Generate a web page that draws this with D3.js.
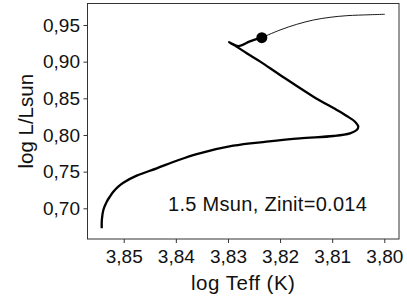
<!DOCTYPE html>
<html>
<head>
<meta charset="utf-8">
<script src="https://cdn.jsdelivr.net/npm/d3@7"></script>
<style>
html,body{margin:0;padding:0;background:#fff;}
svg{display:block;font-family:"Liberation Sans",Arial,Helvetica,sans-serif;}
</style>
</head>
<body>
<svg id="chart" width="407" height="305"></svg>
<script>
// Data: evolutionary track (thick part, up to marker)
const trackTeff = [3.85422,3.85420,3.85391,3.85326,3.85260,3.85200,3.85110,3.85008,3.84751,3.84367,3.83983,3.83599,3.8290,3.8226,3.8162,3.80978,3.80658,3.80530,3.80499,3.80562,3.80721,3.80913,3.8136,3.8200,3.8238,3.8264,3.8283,3.8298,3.8280,3.8258,3.8235];
const trackLogL = [0.6727,0.6840,0.6977,0.7090,0.7165,0.7226,0.7293,0.7349,0.7445,0.7545,0.7649,0.7740,0.7854,0.7909,0.7955,0.7986,0.8023,0.8068,0.8113,0.8181,0.8259,0.8341,0.8522,0.8818,0.9000,0.9114,0.9204,0.9265,0.9212,0.9276,0.9327];
// Continuation (thin part)
const thinTeff = [3.8235,3.8200,3.8168,3.8136,3.8104,3.8072,3.8027,3.7999];
const thinLogL = [0.9327,0.9432,0.9509,0.9568,0.9605,0.9627,0.9640,0.9646];
// Marker
const markTeff = [3.8235];
const markLogL = [0.9327];
// Ticks
const xTicks = [3.85,3.84,3.83,3.82,3.81,3.80];
const yTicks = [0.70,0.75,0.80,0.85,0.90,0.95];
const xTitle = "log Teff (K)";
const yTitle = "log L/Lsun";
const annotation = "1.5 Msun, Zinit=0.014";

const svg = d3.select("#chart");
const L = 87.5, R = 399, T = 3.5, B = 239;
const x = d3.scaleLinear().domain([3.85695, 3.79718]).range([L, R]);
const y = d3.scaleLinear().domain([0.65813, 0.97932]).range([B, T]);
const fmt = d => d3.format(".2f")(d).replace(".", ",");

// Axes
const xa = svg.append("g").attr("transform", `translate(0,${B})`)
  .call(d3.axisBottom(x).tickValues(xTicks).tickFormat(fmt).tickSize(4).tickPadding(7));
const ya = svg.append("g").attr("transform", `translate(${L},0)`)
  .call(d3.axisLeft(y).tickValues(yTicks).tickFormat(fmt).tickSize(4).tickPadding(3.5));
[xa, ya].forEach(g => {
  g.select(".domain").remove();
  g.selectAll(".tick line").attr("stroke", "#333");
  g.selectAll(".tick text").attr("font-size", 19).attr("fill", "#111")
    .attr("font-family", "'Liberation Sans',Arial,sans-serif");
});

// Frame
svg.append("rect").attr("x", L).attr("y", T).attr("width", R - L).attr("height", B - T)
  .attr("fill", "none").attr("stroke", "#333").attr("stroke-width", 1);

// Lines
const line = d3.line().x(d => x(d[0])).y(d => y(d[1])).curve(d3.curveCatmullRom.alpha(0.5));
svg.append("path").datum(trackTeff.map((t, i) => [t, trackLogL[i]]))
  .attr("d", line).attr("fill", "none").attr("stroke", "#000").attr("stroke-width", 2.3)
  .attr("stroke-linejoin", "round");
svg.append("path").datum(thinTeff.map((t, i) => [t, thinLogL[i]]))
  .attr("d", line).attr("fill", "none").attr("stroke", "#000").attr("stroke-width", 0.9);

svg.selectAll("circle.mark").data(markTeff.map((t, i) => [t, markLogL[i]])).enter()
  .append("circle").attr("class", "mark")
  .attr("cx", d => x(d[0])).attr("cy", d => y(d[1])).attr("r", 5.5).attr("fill", "#000");

// Titles
svg.append("text").attr("x", (L + R) / 2).attr("y", 290).attr("text-anchor", "middle")
  .attr("font-size", 20.5).attr("letter-spacing", 0.5).attr("fill", "#111").text(xTitle);
svg.append("text").attr("transform", `translate(32.5,${(T + B) / 2}) rotate(-90)`)
  .attr("text-anchor", "middle").attr("font-size", 20.5).attr("fill", "#111").text(yTitle);

// Annotation
svg.append("text").attr("x", 168).attr("y", 211).attr("font-size", 20).attr("letter-spacing", 0.3)
  .attr("fill", "#111").text(annotation);
</script>
</body>
</html>
